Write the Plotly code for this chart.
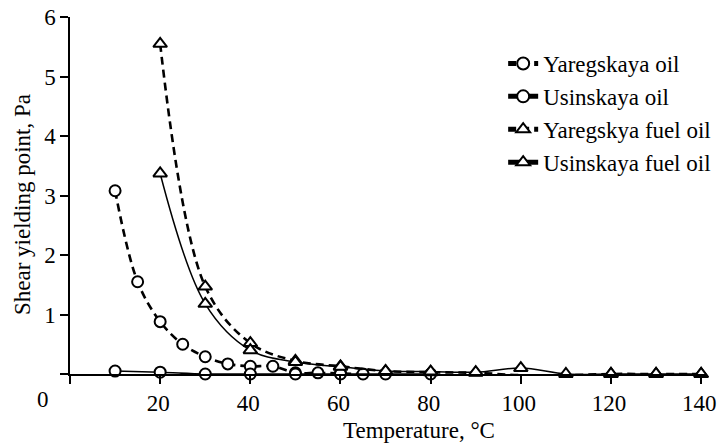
import plotly.graph_objects as go

# ---- data ----
yar_oil_t = [10, 15, 20, 25, 30, 35, 40, 45, 50, 55, 60, 65]
yar_oil_v = [3.08, 1.55, 0.88, 0.50, 0.29, 0.17, 0.13, 0.13, 0.02, 0.02, 0.01, 0.0]

usi_oil_t = [10, 20, 30, 40, 50, 60, 70, 80]
usi_oil_v = [0.05, 0.03, 0.0, 0.0, 0.0, 0.0, 0.0, 0.0]

fuel_t = [20, 30, 40, 50, 60, 70, 80, 90, 100, 110, 120, 130, 140]
yar_fuel_v = [5.55, 1.47, 0.52, 0.22, 0.13, 0.05, 0.03, 0.02, -0.02, -0.02, 0.0, 0.0, 0.0]
usi_fuel_v = [3.37, 1.18, 0.40, 0.20, 0.12, 0.05, 0.04, 0.03, 0.10, 0.0, 0.0, 0.0, 0.0]

series_names = ["Yaregskaya oil", "Usinskaya oil", "Yaregskya fuel oil", "Usinskaya fuel oil"]

x_tickvals = [0, 20, 40, 60, 80, 100, 120, 140]
x_ticktext = ["", "20", "40", "60", "80", "100", "120", "140"]
y_tickvals = [0, 1, 2, 3, 4, 5, 6]
y_ticktext = ["", "1", "2", "3", "4", "5", "6"]

x_title = "Temperature, °C"
y_title = "Shear yielding point, Pa"
origin_label = "0"

FONT = "Liberation Serif"

fig = go.Figure()

def add(t, v, name, dashed, symbol, size):
    fig.add_trace(go.Scatter(
        x=t, y=v, name=name, mode="lines+markers",
        line=dict(color="black", width=2.6 if dashed else 1.5,
                  dash="8px,5px" if dashed else "solid",
                  shape="spline", smoothing=1),
        marker=dict(symbol=symbol, size=size, color="white",
                    line=dict(color="black", width=2)),
        cliponaxis=False,
    ))

add(yar_oil_t, yar_oil_v, series_names[0], True, "circle", 11)
add(usi_oil_t, usi_oil_v, series_names[1], False, "circle", 11)
add(fuel_t, yar_fuel_v, series_names[2], True, "triangle-up", 12)
add(fuel_t, usi_fuel_v, series_names[3], False, "triangle-up", 12)

fig.update_layout(
    width=718, height=443,
    margin=dict(l=70, r=11, t=17, b=69, autoexpand=False),
    paper_bgcolor="white", plot_bgcolor="white",
    font=dict(family=FONT, size=23, color="black"),
    showlegend=True,
    legend=dict(x=0.680, y=0.930, xanchor="left", yanchor="top",
                bgcolor="rgba(0,0,0,0)", itemsizing="constant",
                font=dict(family=FONT, size=23, color="black")),
    xaxis=dict(range=[0, 141.3], showgrid=False, zeroline=False, automargin=False,
               showline=True, linecolor="black", linewidth=1.5,
               ticks="outside", ticklen=8, tickwidth=1.5, tickcolor="black",
               tickvals=x_tickvals, ticktext=x_ticktext, ticklabeloverflow="allow",
               ticklabelshift=-2,
               tickfont=dict(family=FONT, size=23, color="black")),
    yaxis=dict(range=[0, 6], showgrid=False, zeroline=False, automargin=False,
               showline=True, linecolor="black", linewidth=1.5,
               ticks="outside", ticklen=8, tickwidth=1.5, tickcolor="black",
               tickvals=y_tickvals, ticktext=y_ticktext, ticklabeloverflow="allow",
               tickfont=dict(family=FONT, size=23, color="black")),
    annotations=[
        dict(text=x_title, xref="paper", yref="paper", x=0.548, y=-0.159,
             xanchor="center", yanchor="middle", showarrow=False,
             font=dict(family=FONT, size=23, color="black")),
        dict(text=y_title, xref="paper", yref="paper", x=-0.0754, y=0.476,
             xanchor="center", yanchor="middle", showarrow=False, textangle=-90,
             font=dict(family=FONT, size=23, color="black")),
        dict(text=origin_label, xref="paper", yref="paper", x=-0.0424, y=-0.0728,
             xanchor="center", yanchor="middle", showarrow=False,
             font=dict(family=FONT, size=23, color="black")),
    ],
)

fig.write_html("out.html", config={"displayModeBar": False},
               post_script="document.body.style.margin='0';document.body.style.overflow='hidden';")
